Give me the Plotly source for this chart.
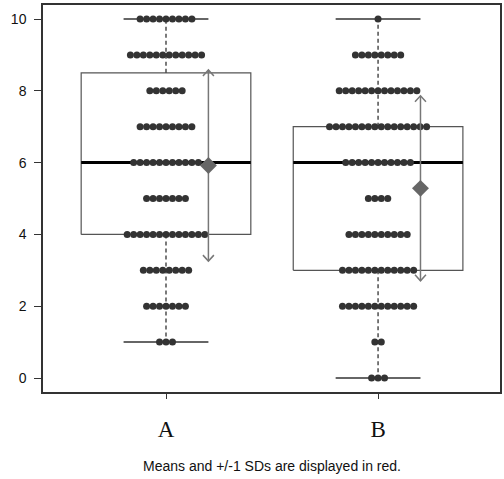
import plotly.graph_objects as go
import numpy as np

# ---- data ----
groups = ["A", "B"]
group_pos = [1, 2]
levels = [0, 1, 2, 3, 4, 5, 6, 7, 8, 9, 10]
count_A = [0, 3, 7, 8, 13, 7, 11, 9, 6, 12, 9]
count_B = [3, 2, 12, 12, 10, 4, 11, 16, 13, 8, 1]
box_q1 = [4, 3]
box_median = [6, 6]
box_q3 = [8.5, 7]
y_ticks = [0, 2, 4, 6, 8, 10]
caption = "Means and +/-1 SDs are displayed in red."

# ---- layout geometry ----
W, H = 504, 479
ML, MR, MT, MB = 43, 2, 5, 87
XR = [0.42, 2.575]
YR = [-0.39, 10.39]
px_x = (W - ML - MR) / (XR[1] - XR[0])
px_y = (H - MT - MB) / (YR[1] - YR[0])

box_half = 0.4
cap_half = 0.2
sd_off = 0.2
dot_sp = 6.5 / px_x

fig = go.Figure()

counts = [count_A, count_B]
for gi, (g, xc) in enumerate(zip(groups, group_pos)):
    vals = np.repeat(levels, counts[gi])
    vmin, vmax = vals.min(), vals.max()
    mean, sd = vals.mean(), vals.std()
    q1, med, q3 = box_q1[gi], box_median[gi], box_q3[gi]
    # box
    fig.add_trace(go.Scatter(
        x=[xc - box_half, xc + box_half, xc + box_half, xc - box_half, xc - box_half],
        y=[q1, q1, q3, q3, q1], mode="lines",
        line=dict(color="#555555", width=1.2), hoverinfo="skip"))
    # whiskers
    fig.add_trace(go.Scatter(x=[xc, xc], y=[q3, vmax], mode="lines",
                             line=dict(color="#333333", width=1.3, dash="4px,3px"), hoverinfo="skip"))
    fig.add_trace(go.Scatter(x=[xc, xc], y=[q1, vmin], mode="lines",
                             line=dict(color="#333333", width=1.3, dash="4px,3px"), hoverinfo="skip"))
    # caps
    for v in (vmin, vmax):
        fig.add_trace(go.Scatter(x=[xc - cap_half, xc + cap_half], y=[v, v], mode="lines",
                                 line=dict(color="#666666", width=2), hoverinfo="skip"))
    # median
    fig.add_trace(go.Scatter(x=[xc - box_half, xc + box_half], y=[med, med], mode="lines",
                             line=dict(color="#000000", width=3), hoverinfo="skip"))
    # dots (swarm)
    xs, ys = [], []
    for lv, n in zip(levels, counts[gi]):
        for i in range(n):
            xs.append(xc + (i - (n - 1) / 2) * dot_sp)
            ys.append(lv)
    fig.add_trace(go.Scatter(x=xs, y=ys, mode="markers",
                             marker=dict(color="#333333", size=7, line=dict(width=0)),
                             hoverinfo="skip"))
    # SD arrow
    xa = xc + sd_off
    lo, hi = mean - sd, mean + sd
    dx = 5.5 / px_x
    dy = 6.0 / px_y
    fig.add_trace(go.Scatter(x=[xa, xa], y=[lo, hi], mode="lines",
                             line=dict(color="#777777", width=1.5), hoverinfo="skip"))
    fig.add_trace(go.Scatter(x=[xa - dx, xa, xa + dx, None, xa - dx, xa, xa + dx],
                             y=[hi - dy, hi, hi - dy, None, lo + dy, lo, lo + dy],
                             mode="lines", line=dict(color="#777777", width=1.5), hoverinfo="skip"))
    fig.add_trace(go.Scatter(x=[xa], y=[mean], mode="markers",
                             marker=dict(symbol="diamond", color="#666666", size=13, line=dict(width=0)),
                             hoverinfo="skip"))

fig.add_annotation(text=caption, xref="paper", yref="paper", x=0.5, y=-(466 - (H - MB)) / (H - MT - MB),
                   xanchor="center", yanchor="middle", showarrow=False,
                   font=dict(family="Liberation Sans Narrow, Liberation Sans, Arial", size=14, color="#111111"))

fig.update_layout(
    width=W, height=H, margin=dict(l=ML, r=MR, t=MT, b=MB),
    paper_bgcolor="white", plot_bgcolor="white", showlegend=False,
    xaxis=dict(range=XR, tickmode="array", tickvals=group_pos, ticktext=groups,
               showgrid=False, zeroline=False, showline=True, mirror=True,
               linecolor="#333333", linewidth=1.5, ticks="outside", ticklen=5,
               tickcolor="#333333", ticklabelstandoff=11,
               tickfont=dict(family="Liberation Serif, Times New Roman, serif", size=23, color="#111111")),
    yaxis=dict(range=YR, tickmode="array", tickvals=y_ticks, ticktext=[str(t) for t in y_ticks],
               showgrid=False, zeroline=False, showline=True, mirror=True,
               linecolor="#333333", linewidth=1.5, ticks="outside", ticklen=7,
               tickcolor="#333333", ticklabelstandoff=5,
               tickfont=dict(family="Liberation Sans Narrow, Liberation Sans, Arial", size=14, color="#111111")),
)

fig.write_html("out.html")
